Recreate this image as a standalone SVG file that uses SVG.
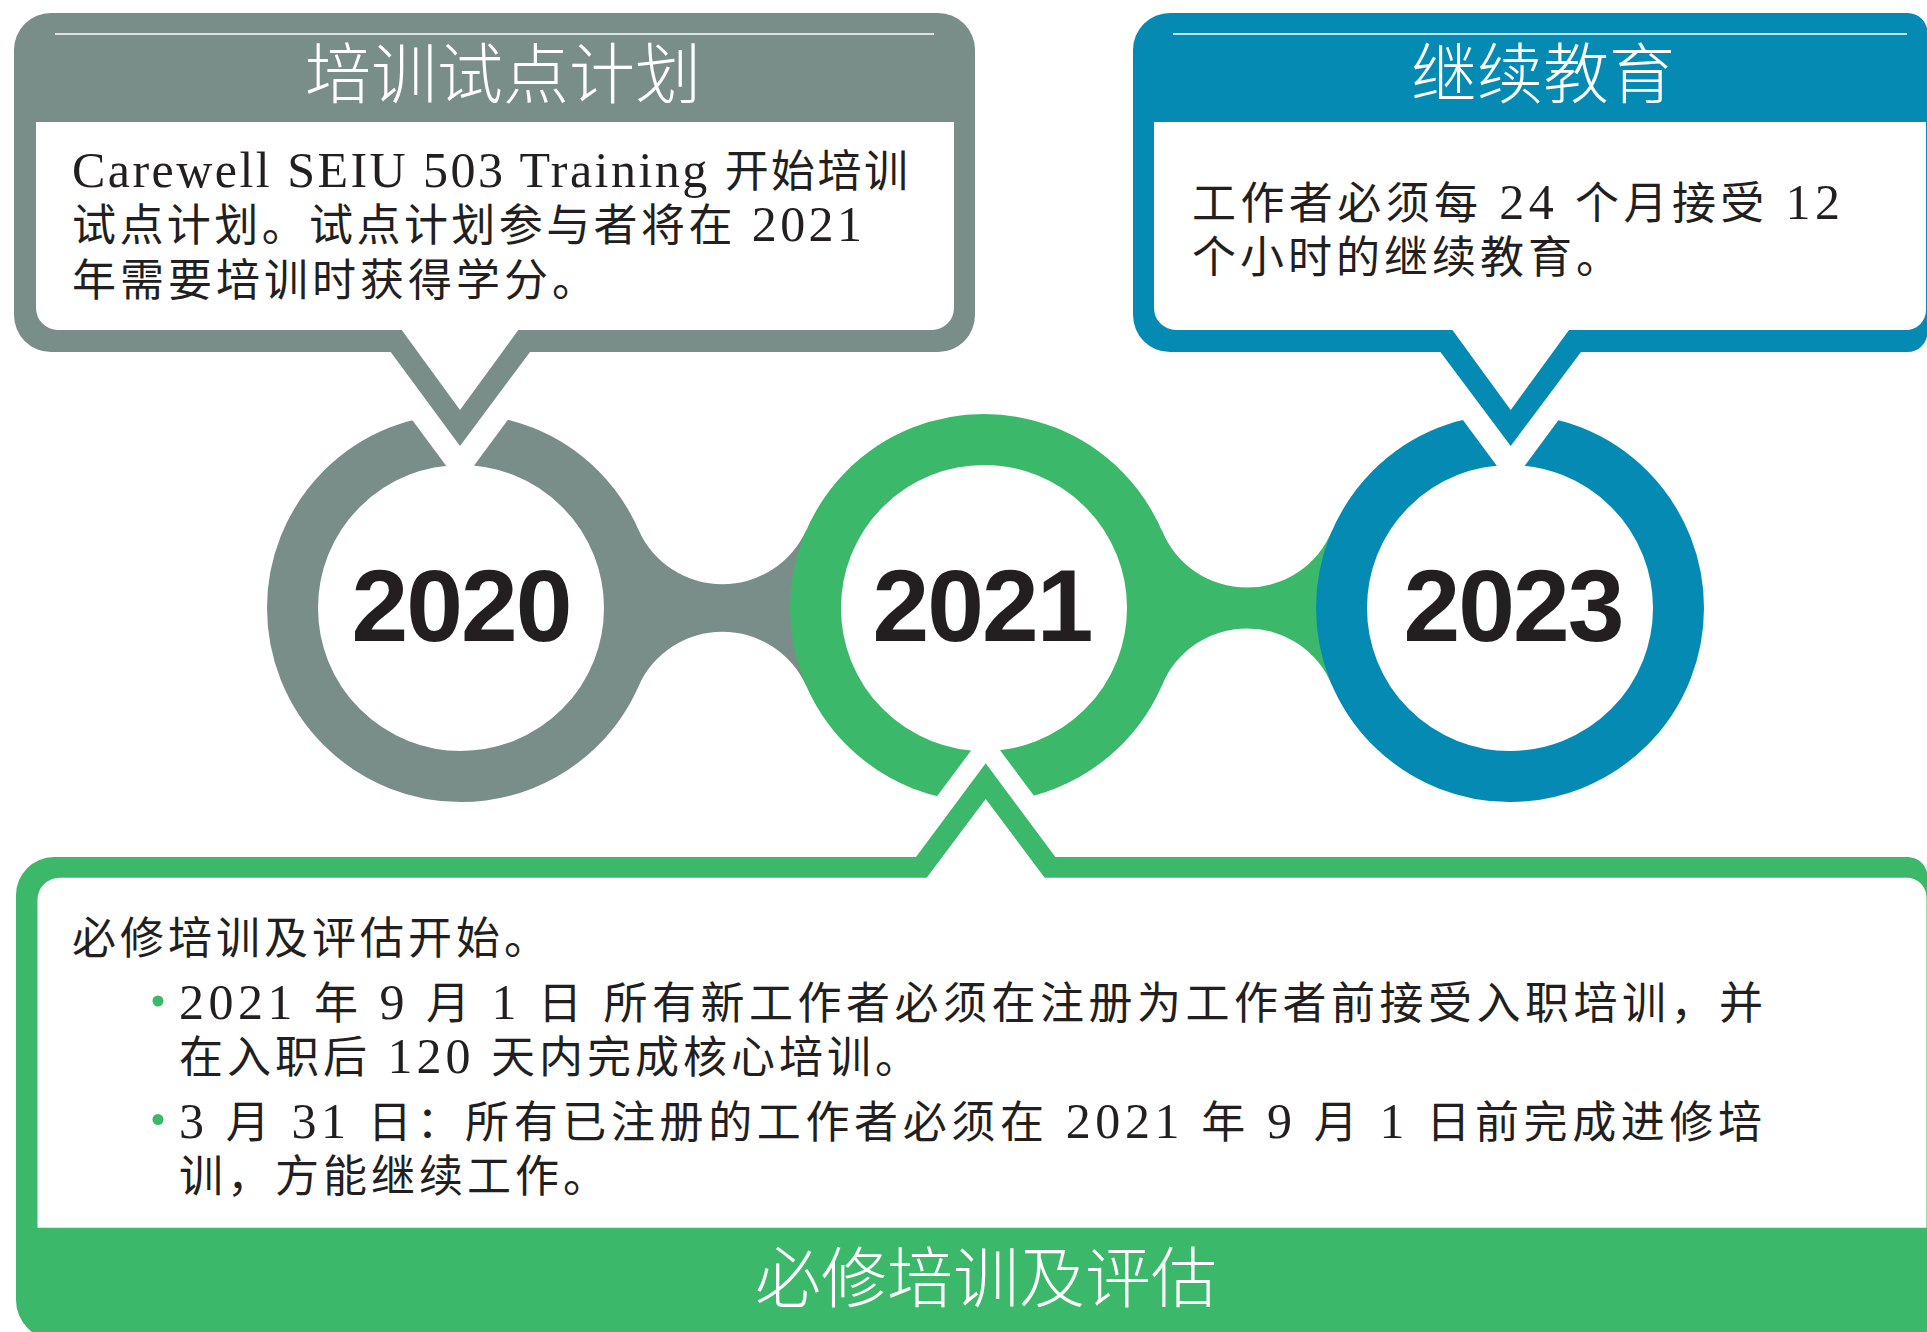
<svg xmlns="http://www.w3.org/2000/svg" width="1927" height="1332" viewBox="0 0 1927 1332">
<style>
.gray{fill:#798D89}
.green{fill:#3CB86B}
.blue{fill:#058BB3}
.white{fill:#FFFFFF}
.ring{fill:#FFFFFF;stroke-width:51}
.rule{stroke:#FFFFFF;stroke-width:1.6;fill:none}
.title{font-family:"Noto Sans CJK SC","Noto Sans",sans-serif;font-weight:300;font-size:66px;fill:#FFFFFF;text-anchor:middle}
.body{font-family:"Liberation Serif","Noto Sans CJK SC",serif;font-size:44px;fill:#231F20}
.lat{font-size:50px}
.year{font-family:"Liberation Sans",Arial,sans-serif;font-weight:bold;font-size:102px;fill:#231F20;text-anchor:middle;letter-spacing:-2px}
</style>
<rect width="1927" height="1332" fill="#FFFFFF"/>

<g id="connectors">
<path class="gray" d="M 461 608 L 638.5 530 A 92 92 0 0 0 806.3 530 L 984 608 L 806.3 686 A 92 92 0 0 0 638.5 686 Z"/>
<path class="green" d="M 984 608 L 1161.8 530.3 A 92 92 0 0 0 1332.2 530.3 L 1510 608 L 1332.2 685.7 A 92 92 0 0 0 1161.8 685.7 Z"/>
</g>

<g id="node-2020">
<circle class="ring" cx="461" cy="608" r="168.5" stroke="#798D89"/>
<polygon class="white" points="367.8,360 460,484.6 552.2,360"/>
<text class="year" x="461" y="641">2020</text>
</g>

<g id="node-2021">
<circle class="ring" cx="984" cy="608" r="168.5" stroke="#3CB86B"/>
<polygon class="white" points="900.7,845 985.7,731 1070.7,845"/>
<text class="year" x="982" y="641">2021</text>
</g>

<g id="node-2023">
<circle class="ring" cx="1510" cy="608" r="168.5" stroke="#058BB3"/>
<polygon class="white" points="1418.5,360 1510.7,484.6 1602.9,360"/>
<text class="year" x="1513" y="641">2023</text>
</g>

<g id="callout-pilot">
<path class="gray" d="M 51 13 H 938 A 37 37 0 0 1 975 50 V 315 A 37 37 0 0 1 938 352 H 530 L 460 446 L 390.7 352 H 51 A 37 37 0 0 1 14 315 V 50 A 37 37 0 0 1 51 13 Z"/>
<path class="white" d="M 36 122 H 954 V 308 A 22 22 0 0 1 932 330 H 518.3 L 460 410 L 401.7 330 H 58 A 22 22 0 0 1 36 308 Z"/>
<line class="rule" x1="55" y1="34" x2="934" y2="34"/>
<text class="title" x="503" y="98">培训试点计划</text>
<text class="body" x="72" y="187" textLength="836" lengthAdjust="spacing"><tspan class="lat">Carewell SEIU 503 Training </tspan>开始培训</text>
<text class="body" x="72" y="241" textLength="790" lengthAdjust="spacing">试点计划。试点计划参与者将在<tspan class="lat"> 2021</tspan></text>
<text class="body" x="72" y="296" textLength="524" lengthAdjust="spacing">年需要培训时获得学分。</text>
</g>

<g id="callout-continuing">
<path class="blue" d="M 1170 13 H 1907.5 A 20 20 0 0 1 1927.5 33 V 332 A 20 20 0 0 1 1907.5 352 H 1581 L 1510.7 446 L 1440.4 352 H 1170 A 37 37 0 0 1 1133 315 V 50 A 37 37 0 0 1 1170 13 Z"/>
<path class="white" d="M 1154 122 H 1926 V 310 A 20 20 0 0 1 1906 330 H 1569 L 1510.7 410 L 1452.4 330 H 1176 A 22 22 0 0 1 1154 308 Z"/>
<line class="rule" x1="1173" y1="34" x2="1907" y2="34"/>
<text class="title" x="1543" y="98">继续教育</text>
<text class="body" x="1192" y="219" textLength="648" lengthAdjust="spacing">工作者必须每<tspan class="lat"> 24 </tspan>个月接受<tspan class="lat"> 12</tspan></text>
<text class="body" x="1192" y="273" textLength="428" lengthAdjust="spacing">个小时的继续教育。</text>
</g>

<g id="callout-mandatory">
<path class="green" d="M 16 895 A 38 38 0 0 1 54 857 H 916 L 985.7 763.3 L 1055.4 857 H 1907.5 A 20 20 0 0 1 1927.5 877 V 1340 H 56 A 40 40 0 0 1 16 1300 Z"/>
<path class="white" d="M 37.5 900 A 22 22 0 0 1 59.5 877.7 H 926.7 L 985.7 799 L 1044.7 877.7 H 1907 A 19.5 19.5 0 0 1 1926.5 897.2 V 1227.7 H 37.5 Z"/>
<text class="body" x="72" y="954" textLength="476" lengthAdjust="spacing">必修培训及评估开始。</text>
<circle class="green" cx="158" cy="1001" r="5.5"/>
<text class="body" x="179" y="1019" textLength="1584" lengthAdjust="spacing"><tspan class="lat">2021 </tspan>年<tspan class="lat"> 9 </tspan>月<tspan class="lat"> 1 </tspan>日<tspan class="lat"> </tspan>所有新工作者必须在注册为工作者前接受入职培训，并</text>
<text class="body" x="179" y="1073" textLength="740" lengthAdjust="spacing">在入职后<tspan class="lat"> 120 </tspan>天内完成核心培训。</text>
<circle class="green" cx="158" cy="1119.5" r="5.5"/>
<text class="body" x="179" y="1138" textLength="1583" lengthAdjust="spacing"><tspan class="lat">3 </tspan>月<tspan class="lat"> 31 </tspan>日：所有已注册的工作者必须在<tspan class="lat"> 2021 </tspan>年<tspan class="lat"> 9 </tspan>月<tspan class="lat"> 1 </tspan>日前完成进修培</text>
<text class="body" x="179" y="1192" textLength="428" lengthAdjust="spacing">训，方能继续工作。</text>
<text class="title" x="986" y="1302">必修培训及评估</text>
</g>
</svg>
